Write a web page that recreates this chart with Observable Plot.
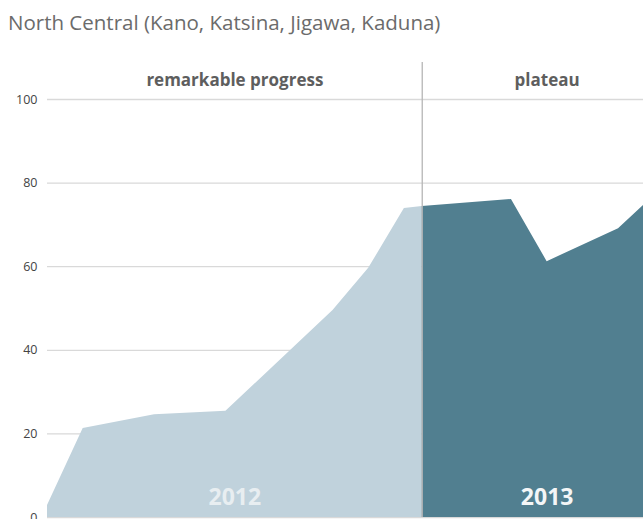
<!DOCTYPE html>
<html>
<head>
<meta charset="utf-8">
<script src="https://cdn.jsdelivr.net/npm/d3@7"></script>
<script src="https://cdn.jsdelivr.net/npm/@observablehq/plot@0.6"></script>
<style>
  html, body { margin: 0; padding: 0; background: #fff; }
  body { width: 643px; height: 519px; overflow: hidden; font-family: "Open Sans", sans-serif; }
  #title { height: 45px; box-sizing: border-box; padding: 10px 0 0 8px; font-size: 20.5px; color: #6b6b6b; line-height: 25px; white-space: nowrap; }
  svg { display: block; }
</style>
</head>
<body>
<div id="title">North Central (Kano, Katsina, Jigawa, Kaduna)</div>
<div id="chart"></div>
<script>
// Data
const x2012 = [0, 1, 3, 5, 8, 9, 10, 10.5];
const v2012 = [2.9, 21.3, 24.6, 25.4, 49.5, 59.6, 73.9, 74.4];
const x2013 = [10.5, 13, 14, 16, 17];
const v2013 = [74.4, 76.1, 61.2, 69.1, 77];
const boundary = [10.5];
const periodLabels = ["remarkable progress", "plateau"];
const periodCenters = [5.25, 14];
const yearLabels = ["2012", "2013"];
const yTicks = [0, 20, 40, 60, 80, 100];

const d2012 = x2012.map((x, i) => ({x, v: v2012[i]}));
const d2013 = x2013.map((x, i) => ({x, v: v2013[i]}));
const periods = periodLabels.map((t, i) => ({t, x: periodCenters[i], year: yearLabels[i]}));

const chart = Plot.plot({
  width: 643,
  height: 474,
  marginLeft: 47,
  marginRight: 0,
  marginTop: 54,
  marginBottom: 2,
  style: {fontFamily: "Open Sans, sans-serif", overflow: "visible"},
  x: {domain: [0, 16.7], axis: null},
  y: {domain: [0, 100], ticks: yTicks, tickSize: 0, tickPadding: 10, label: null},
  marks: [
    Plot.gridY(yTicks, {stroke: "#d9d9d9", strokeOpacity: 1, strokeWidth: 1.3}),
    Plot.axisY(yTicks, {tickSize: 0, tickPadding: 10, fontSize: 12.5, fill: "#444", label: null}),
    Plot.areaY(d2012, {x: "x", y: "v", fill: "#c0d2dc", clip: true}),
    Plot.areaY(d2013, {x: "x", y: "v", fill: "#517f90", clip: true}),
    Plot.ruleX(boundary, {stroke: "#b5b5b5", strokeWidth: 1.3, insetTop: -37}),
    Plot.text(periods, {x: "x", text: "t", frameAnchor: "top", dy: -26, fontSize: 17, fontWeight: "bold", fill: "#5e5e5e"}),
    Plot.text(periods, {x: "x", text: "year", frameAnchor: "bottom", dy: -13, fontSize: 23, fontWeight: "bold", fill: (d, i) => i === 0 ? "#e8eef1" : "#f4f6f7"})
  ]
});
document.getElementById("chart").append(chart);
</script>
</body>
</html>
